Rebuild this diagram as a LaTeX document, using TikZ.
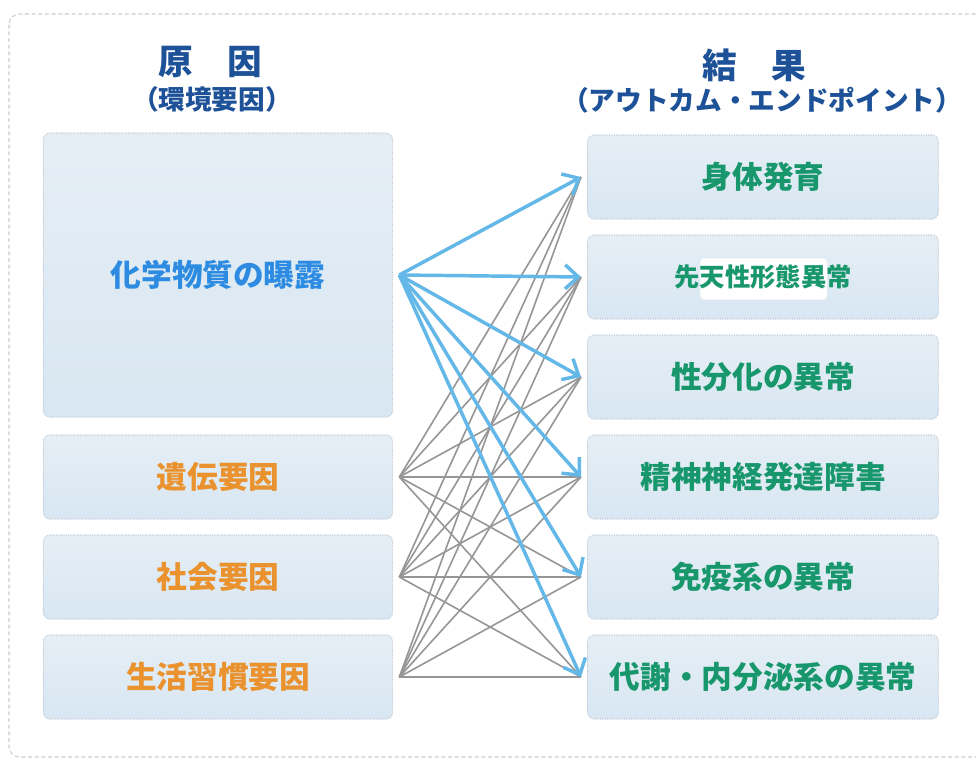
\documentclass[tikz,border=0pt]{standalone}
\usepackage{fontspec}
\newfontfamily\jp{Noto Sans CJK JP}
\usepackage{tikz}
\usetikzlibrary{arrows.meta, positioning}

\definecolor{headblue}{RGB}{30,82,152}
\definecolor{chemblue}{RGB}{45,140,225}
\definecolor{factorange}{RGB}{234,146,46}
\definecolor{outgreen}{RGB}{24,150,108}
\definecolor{arrowblue}{RGB}{100,184,232}
\definecolor{linegray}{RGB}{150,150,150}
\definecolor{boxtop}{RGB}{230,238,245}
\definecolor{boxmid}{RGB}{196,211,226}
\definecolor{boxbot}{RGB}{216,231,242}
\definecolor{boxedge}{RGB}{192,203,214}
\definecolor{framegray}{RGB}{200,205,215}

\tikzstyle{headtext} = [font=\jp\bfseries\fontsize{26}{30}\selectfont, text=headblue]
\tikzstyle{subtext} = [font=\jp\bfseries\fontsize{20}{24}\selectfont, text=headblue]
\tikzstyle{factorbox} = [rectangle, rounded corners=5pt, minimum width=262pt, minimum height=63pt, text centered, draw=boxedge, densely dotted, line width=0.8pt, top color=boxtop, middle color=boxmid, bottom color=boxbot, outer sep=5pt, font=\jp\bfseries\fontsize{23}{26}\selectfont, text=factorange]
\tikzstyle{outcomebox} = [factorbox, minimum width=263pt, text=outgreen]
\tikzstyle{whitepatch} = [path picture={\fill [white, rounded corners=3pt] ([xshift=-47pt,yshift=14pt]path picture bounding box.center) rectangle ([xshift=48pt,yshift=-17pt]path picture bounding box.center);}]
\tikzstyle{arrow} = [line width=2.6pt, draw=arrowblue, -{Straight Barb[length=10pt,width=18pt]}]
\tikzstyle{link} = [line width=1.2pt, draw=linegray]

\begin{document}
\begin{tikzpicture}[x=0.75pt, y=-0.75pt, node distance=75pt]
	\useasboundingbox (0,0) rectangle (976,760);
	\clip (0,0) rectangle (976,760);
	\fill [white] (0,0) rectangle (976,760);
	\draw [framegray, densely dashed, line width=0.8pt, rounded corners=8pt] (9,14) rectangle (995,757);
	
	% Headings
	\node (causehead) [headtext] at (210,62) {原　因};
	\node (causesub) [subtext] at (212,99) {（環境要因）};
	\node (effecthead) [headtext] at (754,65) {結　果};
	\node (effectsub) [subtext] at (762,100) {（アウトカム・エンドポイント）};
	
	% Nodes
	\node (chem) [factorbox, minimum height=213pt, text=chemblue] at (218,275) {化学物質の曝露};
	\node (gene) [factorbox] at (218,477) {遺伝要因};
	\node (social) [factorbox, below of=gene] {社会要因};
	\node (life) [factorbox, below of=social] {生活習慣要因};
	
	\node (body) [outcomebox] at (763,177) {身体発育};
	\node (congen) [outcomebox, whitepatch, below of=body, font=\jp\bfseries\fontsize{19}{22}\selectfont] {先天性形態異常};
	\node (sexdiff) [outcomebox, below of=congen] {性分化の異常};
	\node (neuro) [outcomebox, below of=sexdiff] {精神神経発達障害};
	\node (immune) [outcomebox, below of=neuro] {免疫系の異常};
	\node (metab) [outcomebox, below of=immune] {代謝・内分泌系の異常};
	
	% Links
	\foreach \src in {gene, social, life}
		\foreach \dst in {body, congen, sexdiff, neuro, immune, metab}
			\draw [link] (\src.east) -- (\dst.west);
	
	% Arrows
	\foreach \dst in {body, congen, sexdiff, neuro, immune, metab}
		\draw [arrow] (chem.east) -- (\dst.west);
	
\end{tikzpicture}
\end{document}
